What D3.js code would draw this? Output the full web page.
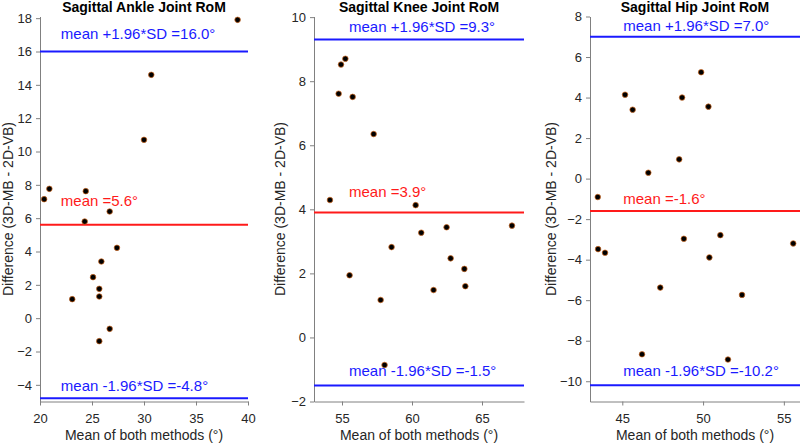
<!DOCTYPE html>
<html>
<head>
<meta charset="utf-8">
<script src="https://cdn.jsdelivr.net/npm/d3@7"></script>
<style>
  body { margin: 0; background: #fff; }
  text { font-family: "Liberation Sans", Arial, sans-serif; }
</style>
</head>
<body>
<div id="chart"></div>
<script>
// Bland-Altman data
const titles = ["Sagittal Ankle Joint RoM", "Sagittal Knee Joint RoM", "Sagittal Hip Joint RoM"];

const ankleMean = [39.0, 30.7, 30.0, 20.9, 20.4, 24.4, 26.7, 24.3, 27.4, 25.9, 25.1, 25.7, 25.7, 23.1, 26.7, 25.7];
const ankleDiff = [17.9, 14.6, 10.7, 7.76, 7.14, 7.62, 6.4, 5.8, 4.22, 3.4, 2.46, 1.76, 1.3, 1.14, -0.64, -1.38];

const kneeMean = [55.24, 54.93, 54.76, 55.76, 57.26, 54.14, 60.26, 62.47, 67.14, 60.66, 58.54, 62.76, 63.74, 55.54, 63.81, 61.54, 57.76, 58.04];
const kneeDiff = [8.70, 8.52, 7.61, 7.51, 6.35, 4.29, 4.13, 3.44, 3.49, 3.27, 2.82, 2.47, 2.14, 1.94, 1.60, 1.48, 1.17, -0.86];

const hipMean = [49.88, 45.17, 48.7, 45.64, 50.33, 48.52, 46.61, 43.48, 43.5, 43.93, 48.81, 51.07, 55.58, 50.39, 47.35, 52.41, 46.22, 51.54];
const hipDiff = [5.25, 4.14, 4.0, 3.4, 3.55, 0.95, 0.29, -0.91, -3.48, -3.66, -2.97, -2.79, -3.2, -3.89, -5.38, -5.74, -8.67, -8.93];

// mean, upper and lower limits of agreement
const meanDiff = [5.6, 3.9, -1.6];
const upperLoA = [16.0, 9.3, 7.0];
const lowerLoA = [-4.8, -1.5, -10.2];

const xDomains = [[20, 40], [53, 68], [43, 56]];
const yDomains = [[-5, 18.1], [-2, 10.02], [-11, 8]];
const xTicks = [[20, 25, 30, 35, 40], [55, 60, 65], [45, 50, 55]];
const yTicks = [d3.range(-4, 19, 2), d3.range(-2, 11, 2), d3.range(-10, 9, 2)];

// layout for each panel
const panelLeft = [40, 314, 590];
const panelWidth = [208, 210, 210];
const plotTop = 16.5, plotBottom = 401.5;
const ylabelGap = [27, 29, 34];
const labelX = [22.0, 55.5, 45.06];
const labelY = [[16.78, 6.72, -4.38], [9.53, 4.39, -1.19], [7.26, -1.27, -9.76]];

const series = [[ankleMean, ankleDiff], [kneeMean, kneeDiff], [hipMean, hipDiff]];

const W = 800, H = 445;
const svg = d3.select("#chart").append("svg")
  .attr("width", W).attr("height", H);

const textCol = "#262626";
const axisCol = "#808080";
const blue = "#1a1aff";
const red = "#ff1a1a";

series.forEach((s, i) => {
  const x = d3.scaleLinear().domain(xDomains[i]).range([panelLeft[i], panelLeft[i] + panelWidth[i]]);
  const y = d3.scaleLinear().domain(yDomains[i]).range([plotBottom, plotTop]);
  const g = svg.append("g");

  // axes
  const xAxis = g.append("g").attr("transform", `translate(0,${plotBottom})`)
    .call(d3.axisBottom(x).tickValues(xTicks[i]).tickSize(4).tickPadding(8).tickSizeOuter(0));
  const yAxis = g.append("g").attr("transform", `translate(${panelLeft[i]},0)`)
    .call(d3.axisLeft(y).tickValues(yTicks[i]).tickSize(4).tickPadding(4).tickSizeOuter(0));
  [xAxis, yAxis].forEach(a => {
    a.select(".domain").attr("stroke", axisCol);
    a.selectAll(".tick line").attr("stroke", axisCol);
    a.selectAll(".tick text").attr("fill", textCol).style("font-size", "13px")
      .style("font-family", "'Liberation Sans', Arial, sans-serif");
  });

  // limit lines
  const lines = [[upperLoA[i], blue], [meanDiff[i], red], [lowerLoA[i], blue]];
  lines.forEach(([v, c]) => {
    g.append("line")
      .attr("x1", x.range()[0]).attr("x2", x.range()[1])
      .attr("y1", y(v)).attr("y2", y(v))
      .attr("stroke", c).attr("stroke-width", 2);
  });

  // labels on the lines
  const labels = [
    [`mean +1.96*SD =${upperLoA[i].toFixed(1)}°`, blue],
    [`mean =${meanDiff[i].toFixed(1)}°`, red],
    [`mean -1.96*SD =${lowerLoA[i].toFixed(1)}°`, blue]
  ];
  labels.forEach(([t, c], k) => {
    g.append("text")
      .attr("x", x(labelX[i])).attr("y", y(labelY[i][k]))
      .attr("fill", c).style("font-size", "15px")
      .text(t);
  });

  // points
  g.selectAll("circle").data(d3.zip(s[0], s[1])).enter()
    .append("circle")
    .attr("cx", d => x(d[0]))
    .attr("cy", d => y(d[1]))
    .attr("r", 2.8)
    .attr("fill", "#000")
    .attr("stroke", "#d2691e")
    .attr("stroke-width", 0.7);

  // titles
  const cx = panelLeft[i] + panelWidth[i] / 2;
  g.append("text").attr("x", cx).attr("y", 12)
    .attr("text-anchor", "middle").style("font-size", "14px").style("font-weight", "bold")
    .attr("fill", "#000").text(titles[i]);

  g.append("text").attr("x", cx).attr("y", 440)
    .attr("text-anchor", "middle").style("font-size", "14px")
    .attr("fill", textCol).text("Mean of both methods (°)");

  g.append("text")
    .attr("transform", `translate(${panelLeft[i] - ylabelGap[i]},${(plotTop + plotBottom) / 2}) rotate(-90)`)
    .attr("text-anchor", "middle").style("font-size", "14px")
    .attr("fill", textCol).text("Difference (3D-MB - 2D-VB)");
});
</script>
</body>
</html>
